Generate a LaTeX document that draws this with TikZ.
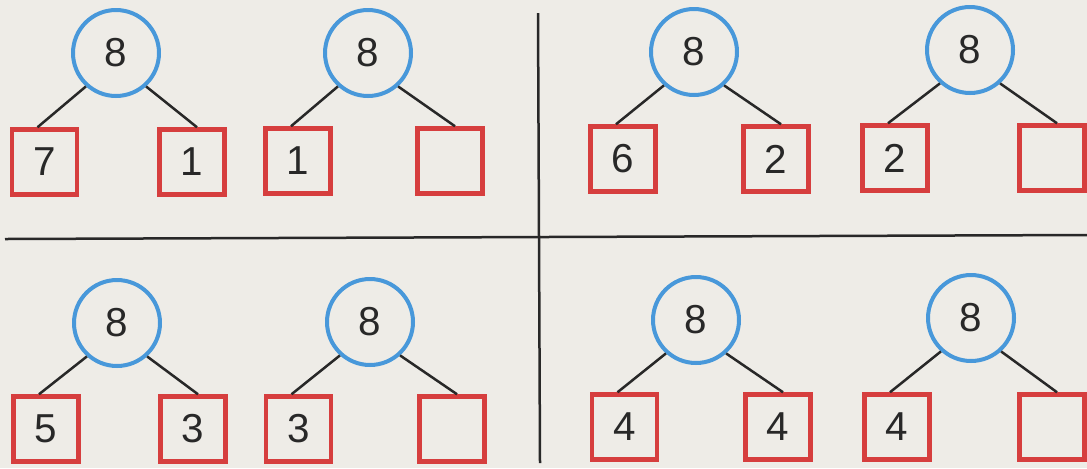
\documentclass[tikz,border=0pt]{standalone}
\usepackage{fontspec}
\setmainfont{Liberation Sans}
\definecolor{circblue}{RGB}{72,152,218}
\definecolor{boxred}{RGB}{214,62,62}
\definecolor{paper}{RGB}{238,236,231}
\definecolor{ink}{RGB}{40,40,40}
\newcommand\bondgroup[8]{%
  \node[num] (#1c) at (#2,#3) {8};
  \node[cell] (#1l) at (#4,#6) {#7};
  \node[cell] (#1r) at (#5,#6) {#8};
  \draw[link] (#1c.228) -- ([xshift=-0.14cm]#1l.north);
  \draw[link] (#1c.312) -- ([xshift=0.10cm]#1r.north);
}
\begin{document}
\begin{tikzpicture}[x=0.02cm,y=-0.02cm,
  num/.style={circle,draw=circblue,line width=0.08cm,minimum size=1.72cm,inner sep=0pt,
    font=\fontsize{23}{23}\selectfont,text=ink},
  cell/.style={rectangle,draw=boxred,line width=0.09cm,minimum size=1.3cm,inner sep=0pt,
    font=\fontsize{23}{23}\selectfont,text=ink},
  link/.style={draw=ink,line width=0.05cm},
  rule/.style={draw=ink,line width=0.05cm}]
\fill[paper] (0,0) rectangle (1087,468);
\useasboundingbox (0,0) rectangle (1087,468);
% dividing lines
\coordinate (vt) at (538,13);
\coordinate (vb) at (540,463);
\coordinate (hl) at (5,239);
\coordinate (hr) at (1087,235);
\draw[rule] (vt) -- (vb);
\draw[rule] (hl) -- (hr);
% groups
\bondgroup{a}{116}{53}{44.5}{192}{162}{7}{1}
\bondgroup{b}{368}{53}{298}{450}{161}{1}{}
\bondgroup{c}{694}{52}{623}{776}{159}{6}{2}
\bondgroup{d}{970}{50}{895}{1052}{158}{2}{}
\bondgroup{e}{117}{323}{46}{193}{429}{5}{3}
\bondgroup{f}{370}{322}{298.5}{452}{429}{3}{}
\bondgroup{g}{696}{320}{624.5}{778}{427}{4}{4}
\bondgroup{h}{971}{318}{897}{1052}{427}{4}{}
\end{tikzpicture}
\end{document}
